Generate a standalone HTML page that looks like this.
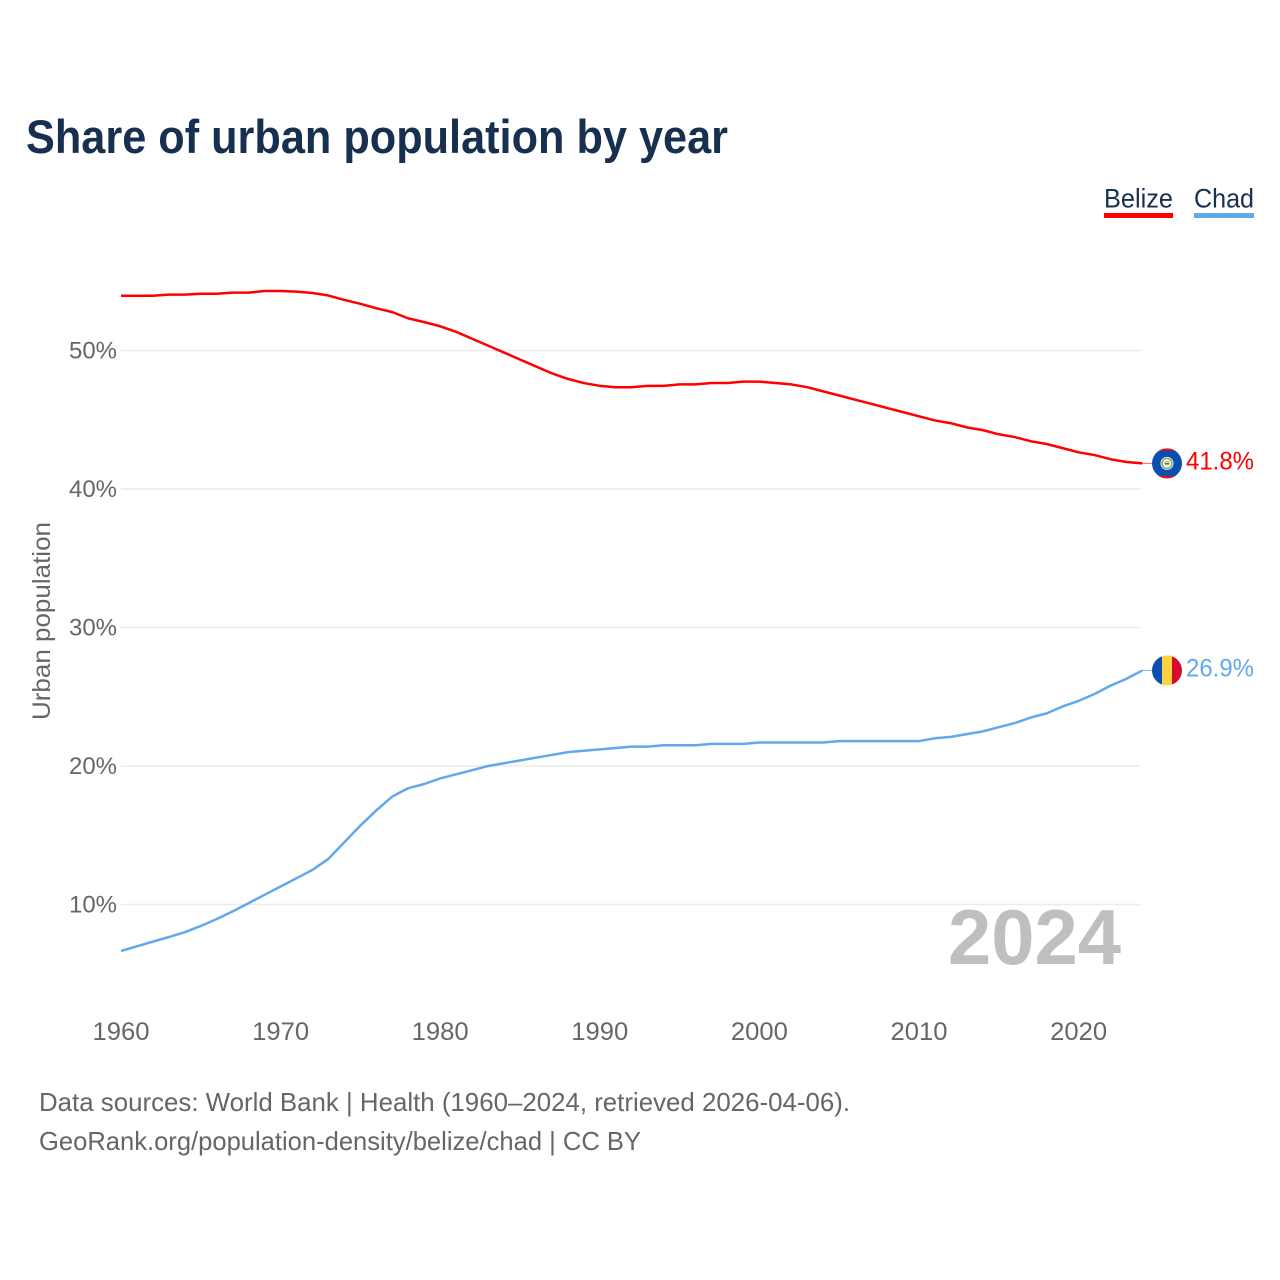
<!DOCTYPE html>
<html lang="en">
<head>
<meta charset="utf-8">
<title>Share of urban population by year</title>
<style>
html,body{margin:0;padding:0;background:#fff;}
svg{display:block;font-family:"Liberation Sans",sans-serif;}
</style>
</head>
<body>
<svg id="chart" width="1280" height="1280" viewBox="0 0 1280 1280" xmlns="http://www.w3.org/2000/svg">
  <rect width="1280" height="1280" fill="#ffffff"/>
  <text x="26" y="153" font-size="47" font-weight="700" fill="#17304f" textLength="702" lengthAdjust="spacingAndGlyphs">Share of urban population by year</text>

  <g>
    <g>
      <text x="1104" y="207.5" font-size="27" fill="#17304f" textLength="69" lengthAdjust="spacingAndGlyphs">Belize</text>
      <rect x="1104" y="213" width="69" height="5" fill="#ff0000"/>
    </g>
    <g>
      <text x="1194" y="207.5" font-size="27" fill="#17304f" textLength="60" lengthAdjust="spacingAndGlyphs">Chad</text>
      <rect x="1194" y="213" width="60" height="5" fill="#62a8ec"/>
    </g>
  </g>

  <g id="grid"></g>
  <g id="yticks"></g>
  <g id="xticks"></g>
  <text transform="translate(50,720) rotate(-90)" font-size="25" fill="#666666" textLength="198" lengthAdjust="spacingAndGlyphs">Urban population</text>

  <text x="948" y="964" font-size="78" font-weight="700" fill="#bfbfbf" textLength="173" lengthAdjust="spacingAndGlyphs">2024</text>

  <g id="series"></g>

  <defs>
    <clipPath id="clip-flag"><circle cx="0" cy="0" r="15"/></clipPath>
  </defs>
  <g id="flag-belize">
    <g clip-path="url(#clip-flag)">
      <rect x="-15" y="-15" width="30" height="30" fill="#0a4fb0"/>
      <rect x="-15" y="-15" width="30" height="2.5" fill="#ce1126"/>
      <rect x="-15" y="12.5" width="30" height="2.5" fill="#ce1126"/>
      <circle r="6.5" fill="#ffffff"/>
      <circle r="5" fill="none" stroke="#7fae5e" stroke-width="1.6"/>
      <circle r="3.2" fill="#e8e8d8"/>
      <rect x="-2.5" y="-2.4" width="5" height="2" fill="#f3c93f"/>
      <rect x="-2.2" y="-0.4" width="4.4" height="1.6" fill="#3f78c4"/>
    </g>
  </g>
  <g id="flag-chad">
    <g clip-path="url(#clip-flag)">
      <rect x="-15" y="-15" width="10" height="30" fill="#0a4fb0"/>
      <rect x="-5" y="-15" width="10" height="30" fill="#fdd23e"/>
      <rect x="5" y="-15" width="10" height="30" fill="#d9082f"/>
    </g>
  </g>
  <text id="label-belize" x="1186" font-size="25" fill="#ff0000" textLength="68" lengthAdjust="spacingAndGlyphs"></text>
  <text id="label-chad" x="1186" font-size="25" fill="#62a8ec" textLength="68" lengthAdjust="spacingAndGlyphs"></text>

  <g>
    <text x="39" y="1111" font-size="26" fill="#666666" textLength="811" lengthAdjust="spacingAndGlyphs">Data sources: World Bank | Health (1960–2024, retrieved 2026-04-06).</text>
    <text x="39" y="1150" font-size="26" fill="#666666" textLength="602" lengthAdjust="spacingAndGlyphs">GeoRank.org/population-density/belize/chad | CC BY</text>
  </g>
</svg>
<script>
const years = [1960,1961,1962,1963,1964,1965,1966,1967,1968,1969,1970,1971,1972,1973,1974,1975,1976,1977,1978,1979,1980,1981,1982,1983,1984,1985,1986,1987,1988,1989,1990,1991,1992,1993,1994,1995,1996,1997,1998,1999,2000,2001,2002,2003,2004,2005,2006,2007,2008,2009,2010,2011,2012,2013,2014,2015,2016,2017,2018,2019,2020,2021,2022,2023,2024];
const belizeValues = [53.95,53.95,53.95,54.03,54.03,54.1,54.1,54.18,54.18,54.3,54.3,54.25,54.15,53.97,53.65,53.37,53.05,52.77,52.32,52.05,51.75,51.35,50.85,50.35,49.85,49.35,48.85,48.35,47.95,47.65,47.45,47.35,47.35,47.45,47.45,47.55,47.55,47.65,47.65,47.75,47.75,47.65,47.55,47.35,47.05,46.75,46.45,46.15,45.85,45.55,45.25,44.95,44.75,44.45,44.25,43.95,43.75,43.45,43.25,42.95,42.65,42.45,42.15,41.95,41.85];
const chadValues = [6.65,6.98,7.32,7.65,8.0,8.45,8.95,9.5,10.1,10.7,11.3,11.9,12.5,13.3,14.5,15.7,16.8,17.8,18.4,18.7,19.1,19.4,19.7,20.0,20.2,20.4,20.6,20.8,21.0,21.1,21.2,21.3,21.4,21.4,21.5,21.5,21.5,21.6,21.6,21.6,21.7,21.7,21.7,21.7,21.7,21.8,21.8,21.8,21.8,21.8,21.8,22.0,22.1,22.3,22.5,22.8,23.1,23.5,23.8,24.3,24.7,25.2,25.8,26.3,26.9];
const yTickValues = [10,20,30,40,50];
const yTickLabels = ["10%","20%","30%","40%","50%"];
const xTickValues = [1960,1970,1980,1990,2000,2010,2020];
const xTickLabels = ["1960","1970","1980","1990","2000","2010","2020"];
const endLabels = ["41.8%","26.9%"];

const NS = "http://www.w3.org/2000/svg";
const xScale = function (year) { return 121 + (year - 1960) * 15.96; };
const yScale = function (v) { return 350.5 + (50 - v) * 13.85; };

function make(tag, parent, attrs) {
  const el = document.createElementNS(NS, tag);
  Object.keys(attrs).forEach(function (k) { el.setAttribute(k, attrs[k]); });
  parent.appendChild(el);
  return el;
}

const grid = document.getElementById("grid");
const yticks = document.getElementById("yticks");
yTickValues.forEach(function (v, i) {
  const y = yScale(v);
  const line = make("line", grid, {x1: 121, x2: 1141, y1: y, y2: y, stroke: "#ececec", "stroke-width": 1.5});
  
  
  const t = make("text", yticks, {x: 117, y: y + 8, "text-anchor": "end", "font-size": 24.5, fill: "#666666", textLength: 48, lengthAdjust: "spacingAndGlyphs"});
  t.textContent = yTickLabels[i];
  
  
});

const xticks = document.getElementById("xticks");
xTickValues.forEach(function (yr, i) {
  const t = make("text", xticks, {x: xScale(yr), y: 1040, "text-anchor": "middle", "font-size": 25, fill: "#666666", textLength: 57, lengthAdjust: "spacingAndGlyphs"});
  t.textContent = xTickLabels[i];
  
  
});

const seriesGroup = document.getElementById("series");
function pathFor(values) {
  return values.map(function (v, i) {
    return (i ? "L" : "M") + xScale(years[i]).toFixed(2) + " " + yScale(v).toFixed(2);
  }).join(" ");
}
const belizeLine = make("path", seriesGroup, {d: pathFor(belizeValues), fill: "none", stroke: "#ff0000", "stroke-width": 2.5, "stroke-linejoin": "round"});


const chadLine = make("path", seriesGroup, {d: pathFor(chadValues), fill: "none", stroke: "#62a8ec", "stroke-width": 2.5, "stroke-linejoin": "round"});



const lastYear = years[years.length - 1];
const belizeEndY = yScale(belizeValues[belizeValues.length - 1]);
const chadEndY = yScale(chadValues[chadValues.length - 1]);
const belizeLink = make("line", seriesGroup, {x1: xScale(lastYear), x2: 1154, y1: belizeEndY, y2: belizeEndY, stroke: "#ff0000", "stroke-width": 1, opacity: 0.6});


const chadLink = make("line", seriesGroup, {x1: xScale(lastYear), x2: 1154, y1: chadEndY, y2: chadEndY, stroke: "#62a8ec", "stroke-width": 1, opacity: 0.8});



document.getElementById("flag-belize").setAttribute("transform", "translate(1167," + belizeEndY + ")");
document.getElementById("flag-chad").setAttribute("transform", "translate(1167," + chadEndY + ")");
const lb = document.getElementById("label-belize");
lb.setAttribute("y", belizeEndY + 6);
lb.textContent = endLabels[0];
const lc = document.getElementById("label-chad");
lc.setAttribute("y", chadEndY + 6);
lc.textContent = endLabels[1];
</script>
</body>
</html>
